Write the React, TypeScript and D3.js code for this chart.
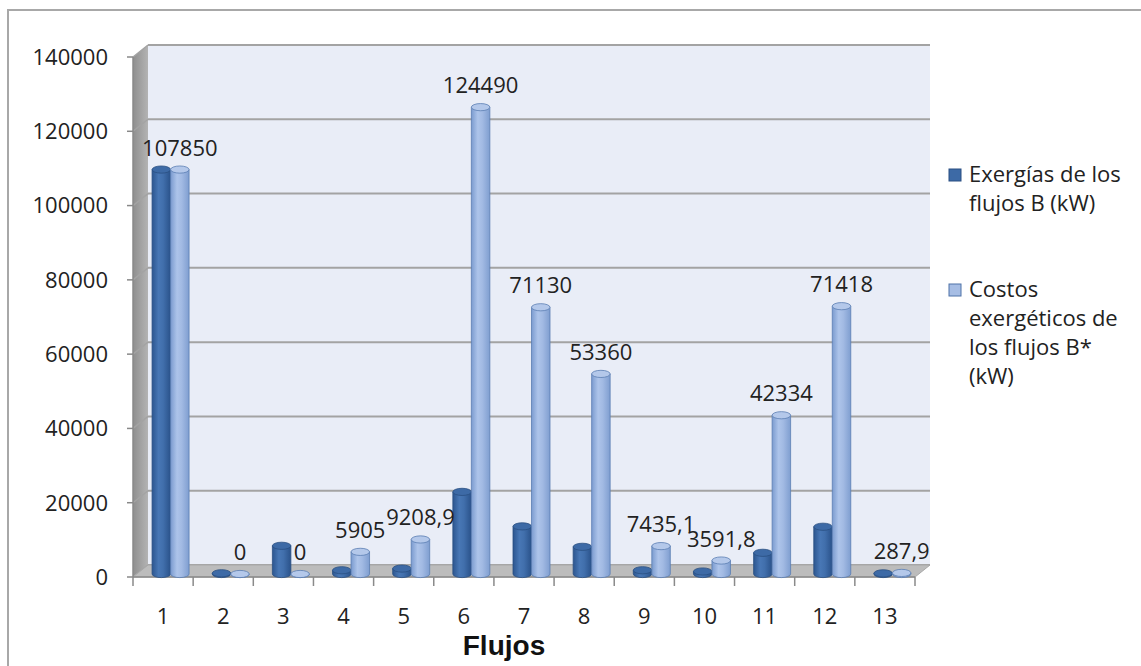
import React from "react";
import * as d3 from "d3";

// Flow numbers and the two series shown per flow
const categories = ["1", "2", "3", "4", "5", "6", "7", "8", "9", "10", "11", "12", "13"];
const exergias = [107850, 200, 7520, 1000, 1450, 21900, 12700, 7250, 1000, 670, 5650, 12600, 180];
const costos = [107850, 0, 0, 5905, 9208.9, 124490, 71130, 53360, 7435.1, 3591.8, 42334, 71418, 287.9];
const yTicks = [0, 20000, 40000, 60000, 80000, 100000, 120000, 140000];
const seriesNames = [
  ["Exergías de los", "flujos B (kW)"],
  ["Costos", "exergéticos de", "los flujos B*", "(kW)"],
];

const W = 1141;
const H = 666;
const FONT = "'Open Sans', sans-serif";

// 3-D box geometry: front plane, and depth offset of the back wall
const X0 = 133;
const X1 = 915;
const DX = 15;
const DY = -12;
const Y_FRONT0 = 577;
const Y_FRONT_TOP = 57;

export default function App() {
  const x = d3.scaleBand<string>().domain(categories).range([X0, X1]).paddingInner(0).paddingOuter(0);
  const yFront = d3.scaleLinear().domain([0, 140000]).range([Y_FRONT0, Y_FRONT_TOP]);
  const yBack = (v: number) => yFront(v) + DY;
  // columns sit half-way into the depth of the box
  const yBar = d3.scaleLinear().domain([0, 140000]).range([574, 49]);

  const bw = 18.5;
  const ry = 3.6;
  const fmt = (v: number) => String(v).replace(".", ",");

  const cylinder = (cx0: number, v: number, key: string, dark: boolean) => {
    const base = yBar(0);
    const top = yBar(v);
    const rx = bw / 2;
    const cx = cx0 + rx;
    const body = `M${cx0},${top} L${cx0},${base} A${rx},${ry} 0 0 0 ${cx0 + bw},${base} L${cx0 + bw},${top} Z`;
    return (
      <g key={key}>
        <path d={body} fill={dark ? "url(#gDark)" : "url(#gLight)"} stroke={dark ? "#2a4f82" : "#5a7db3"} strokeWidth={0.8} />
        <ellipse cx={cx} cy={top} rx={rx} ry={ry} fill={dark ? "#3d6aa6" : "#b4c8ea"} stroke={dark ? "#2a4f82" : "#5a7db3"} strokeWidth={0.8} />
      </g>
    );
  };

  return (
    <svg width={W} height={H} style={{ position: "absolute", left: 0, top: 0, background: "#fff" }}>
      <defs>
        <linearGradient id="gDark" x1="0" x2="1" y1="0" y2="0">
          <stop offset="0" stopColor="#2c5690" />
          <stop offset="0.35" stopColor="#4877b5" />
          <stop offset="0.6" stopColor="#416fac" />
          <stop offset="1" stopColor="#2a528a" />
        </linearGradient>
        <linearGradient id="gLight" x1="0" x2="1" y1="0" y2="0">
          <stop offset="0" stopColor="#7b9bcf" />
          <stop offset="0.35" stopColor="#adc4ea" />
          <stop offset="0.6" stopColor="#a2bae3" />
          <stop offset="1" stopColor="#7f9ed0" />
        </linearGradient>
        <linearGradient id="gSide" x1="0" x2="1" y1="0" y2="0">
          <stop offset="0" stopColor="#8f8f8f" />
          <stop offset="1" stopColor="#b3b3b3" />
        </linearGradient>
      </defs>

      {/* outer frame */}
      <path d={`M8,${H} L8,10 L${W},10`} fill="none" stroke="#a8a8a8" strokeWidth={2} />

      {/* back wall */}
      <rect x={X0 + DX} y={yBack(140000)} width={X1 - X0} height={yBack(0) - yBack(140000)} fill="#e9edf7" />
      {/* side wall */}
      <polygon
        points={`${X0},${yFront(140000)} ${X0 + DX},${yBack(140000)} ${X0 + DX},${yBack(0)} ${X0},${yFront(0)}`}
        fill="url(#gSide)"
      />

      {/* gridlines on both walls, ticks on the front edge */}
      {yTicks.map((t) => (
        <g key={t}>
          <line x1={X0 + DX} x2={X1 + DX} y1={yBack(t)} y2={yBack(t)} stroke="#a3a3a3" strokeWidth={2} />
          <line x1={X0} x2={X0 + DX} y1={yFront(t)} y2={yBack(t)} stroke="#a3a3a3" strokeWidth={1.5} />
          <line x1={X0 - 6} x2={X0} y1={yFront(t)} y2={yFront(t)} stroke="#888" strokeWidth={1.5} />
          <text x={108} y={yFront(t)} dy="0.36em" textAnchor="end" fontFamily={FONT} fontSize={22} fill="#222">
            {t}
          </text>
        </g>
      ))}

      {/* floor */}
      <polygon
        points={`${X0},${yFront(0)} ${X0 + DX},${yBack(0)} ${X1 + DX},${yBack(0)} ${X1},${yFront(0)}`}
        fill="#bcbcbc"
        stroke="#a8a8a8"
        strokeWidth={1}
      />

      {/* axes */}
      <line x1={X0} x2={X0} y1={yFront(140000)} y2={yFront(0)} stroke="#8a8a8a" strokeWidth={1.5} />
      <line x1={X0} x2={X1} y1={yFront(0)} y2={yFront(0)} stroke="#8a8a8a" strokeWidth={1.5} />
      {categories.concat(["end"]).map((c, i) => {
        const xt = X0 + i * x.bandwidth();
        return <line key={c} x1={xt} x2={xt} y1={yFront(0)} y2={yFront(0) + 9} stroke="#8a8a8a" strokeWidth={1.5} />;
      })}
      {categories.map((c) => (
        <text
          key={c}
          x={(x(c) as number) + x.bandwidth() / 2}
          y={616}
          dy="0.36em"
          textAnchor="middle"
          fontFamily={FONT}
          fontSize={22}
          fill="#222"
        >
          {c}
        </text>
      ))}

      {/* columns */}
      {categories.map((c, i) => {
        const cx = (x(c) as number) + x.bandwidth() / 2 + DX / 2;
        return (
          <g key={c}>
            {cylinder(cx - bw, exergias[i], c + "a", true)}
            {cylinder(cx, costos[i], c + "b", false)}
          </g>
        );
      })}

      {/* value labels of the cost series */}
      {categories.map((c, i) => {
        const cx = (x(c) as number) + x.bandwidth() / 2 + DX / 2 + bw / 2;
        return (
          <text
            key={c}
            x={cx}
            y={yBar(costos[i]) - 14}
            textAnchor="middle"
            fontFamily={FONT}
            fontSize={22}
            fill="#222"
          >
            {fmt(costos[i])}
          </text>
        );
      })}

      {/* axis title */}
      <text x={504} y={655} textAnchor="middle" fontFamily="'Liberation Sans', Arial, sans-serif" fontWeight="bold" fontSize={28} fill="#111">
        Flujos
      </text>

      {/* legend */}
      {seriesNames.map((lines, si) => {
        const y0 = si === 0 ? 182 : 297;
        return (
          <g key={si}>
            <rect
              x={949}
              y={y0 - 13}
              width={12}
              height={12}
              fill={si === 0 ? "#3d6aa6" : "#a6bde4"}
              stroke={si === 0 ? "#2a4f82" : "#4f73a8"}
              strokeWidth={1}
            />
            {lines.map((l, li) => (
              <text key={li} x={969} y={y0 + li * 29} fontFamily={FONT} fontSize={22} fill="#222">
                {l}
              </text>
            ))}
          </g>
        );
      })}
    </svg>
  );
}
